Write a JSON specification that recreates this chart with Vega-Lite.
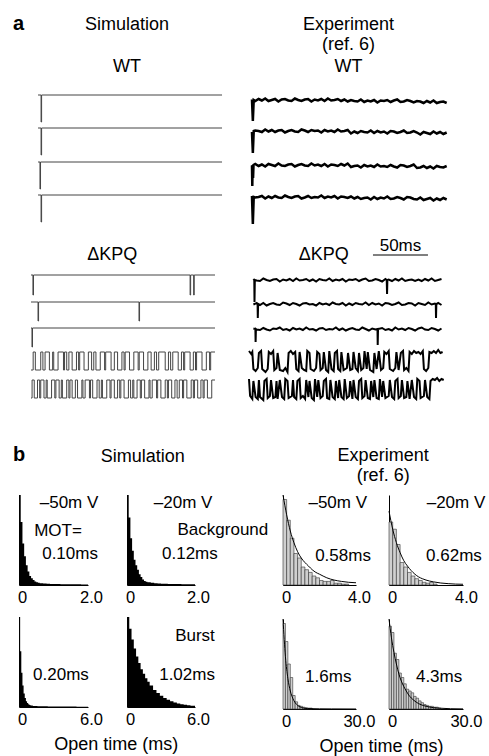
{
"$schema":"https://vega.github.io/schema/vega-lite/v6.json",
"padding":{"left":13,"top":14,"right":2,"bottom":2},
"background":"white",
"config":{
 "view":{"stroke":null},
 "font":"Liberation Sans",
 "title":{"font":"Liberation Sans","fontSize":18,"fontWeight":"normal","color":"black","subtitleFont":"Liberation Sans","subtitleFontSize":18,"subtitleColor":"black","lineHeight":20,"offset":6,"subtitlePadding":4,"anchor":"middle"},
 "axis":{"domainColor":"black","domainWidth":1,"ticks":false,"grid":false,"labelFontSize":16.5,"labelFont":"Liberation Sans","labelColor":"black","labelPadding":4,"labelFlush":false,"labelOverlap":false,"labelBound":false},
 "text":{"font":"Liberation Sans","fontSize":17,"color":"black"}
},
"datasets":{
"simWT":[
{"s":1,"t":0,"y":0},{"s":1,"t":2.8,"y":-27},{"s":1,"t":3.3,"y":0},{"s":1,"t":170,"y":0},
{"s":2,"t":0,"y":-33},{"s":2,"t":2.8,"y":-60},{"s":2,"t":3.3,"y":-33},{"s":2,"t":170,"y":-33},
{"s":3,"t":0,"y":-67},{"s":3,"t":1.8,"y":-94},{"s":3,"t":2.3,"y":-67},{"s":3,"t":170,"y":-67},
{"s":4,"t":0,"y":-100},{"s":4,"t":2.8,"y":-127},{"s":4,"t":3.3,"y":-100},{"s":4,"t":170,"y":-100}],
"expWT":[
{"s":1,"t":0,"y":-1.5},{"s":1,"t":0.8,"y":-23},{"s":1,"t":1.6,"y":-2},{"s":1,"t":3,"y":-3},{"s":1,"t":6,"y":-1},{"s":1,"t":9,"y":-2.5},{"s":1,"t":12,"y":-0.5},{"s":1,"t":15,"y":-3},{"s":1,"t":18,"y":-2},{"s":1,"t":21,"y":-1},{"s":1,"t":24,"y":-3.5},{"s":1,"t":27,"y":-1.5},{"s":1,"t":30,"y":-1},{"s":1,"t":33,"y":-2.5},{"s":1,"t":36,"y":-3},{"s":1,"t":39,"y":-0.5},{"s":1,"t":42,"y":-2},{"s":1,"t":45,"y":-3},{"s":1,"t":48,"y":-1.5},{"s":1,"t":51,"y":-1},{"s":1,"t":54,"y":-3.5},{"s":1,"t":57,"y":-1.5},{"s":1,"t":60,"y":-2.5},{"s":1,"t":63,"y":-1},{"s":1,"t":66,"y":-3},{"s":1,"t":69,"y":-0.5},{"s":1,"t":72,"y":-2.5},{"s":1,"t":75,"y":-2},{"s":1,"t":78,"y":-1},{"s":1,"t":81,"y":-3},{"s":1,"t":84,"y":-1.5},{"s":1,"t":87,"y":-3.5},{"s":1,"t":90,"y":-2},{"s":1,"t":93,"y":-3},{"s":1,"t":96,"y":-3.5},{"s":1,"t":99,"y":-1.5},{"s":1,"t":102,"y":-4},{"s":1,"t":105,"y":-2.5},{"s":1,"t":108,"y":-3.5},{"s":1,"t":111,"y":-2},{"s":1,"t":114,"y":-4.5},{"s":1,"t":117,"y":-2.5},{"s":1,"t":120,"y":-3},{"s":1,"t":123,"y":-2},{"s":1,"t":126,"y":-4},{"s":1,"t":129,"y":-2.5},{"s":1,"t":132,"y":-1.5},{"s":1,"t":135,"y":-4},{"s":1,"t":138,"y":-3.5},{"s":1,"t":141,"y":-2},{"s":1,"t":144,"y":-3},{"s":1,"t":147,"y":-4.5},{"s":1,"t":150,"y":-3},{"s":1,"t":153,"y":-3.5},{"s":1,"t":156,"y":-5},{"s":1,"t":159,"y":-3},{"s":1,"t":162,"y":-4.5},{"s":1,"t":165,"y":-2.5},{"s":1,"t":168,"y":-5},{"s":1,"t":171,"y":-4},{"s":1,"t":174,"y":-3.5},{"s":1,"t":177,"y":-5},
{"s":2,"t":0,"y":-34},{"s":2,"t":0.8,"y":-55},{"s":2,"t":1.6,"y":-33},{"s":2,"t":3,"y":-32.5},{"s":2,"t":6,"y":-33},{"s":2,"t":9,"y":-34},{"s":2,"t":12,"y":-31.5},{"s":2,"t":15,"y":-33.5},{"s":2,"t":18,"y":-32},{"s":2,"t":21,"y":-34},{"s":2,"t":24,"y":-32.5},{"s":2,"t":27,"y":-32},{"s":2,"t":30,"y":-34.5},{"s":2,"t":33,"y":-33},{"s":2,"t":36,"y":-32},{"s":2,"t":39,"y":-33.5},{"s":2,"t":42,"y":-34},{"s":2,"t":45,"y":-31.5},{"s":2,"t":48,"y":-32.5},{"s":2,"t":51,"y":-34},{"s":2,"t":54,"y":-32},{"s":2,"t":57,"y":-33},{"s":2,"t":60,"y":-32.5},{"s":2,"t":63,"y":-34.5},{"s":2,"t":66,"y":-32},{"s":2,"t":69,"y":-33.5},{"s":2,"t":72,"y":-32.5},{"s":2,"t":75,"y":-34},{"s":2,"t":78,"y":-31.5},{"s":2,"t":81,"y":-33.5},{"s":2,"t":84,"y":-33},{"s":2,"t":87,"y":-32},{"s":2,"t":90,"y":-35.5},{"s":2,"t":93,"y":-33.5},{"s":2,"t":96,"y":-35},{"s":2,"t":99,"y":-33},{"s":2,"t":102,"y":-34},{"s":2,"t":105,"y":-34.5},{"s":2,"t":108,"y":-32.5},{"s":2,"t":111,"y":-35},{"s":2,"t":114,"y":-33},{"s":2,"t":117,"y":-34.5},{"s":2,"t":120,"y":-33.5},{"s":2,"t":123,"y":-35.5},{"s":2,"t":126,"y":-33},{"s":2,"t":129,"y":-33.5},{"s":2,"t":132,"y":-35},{"s":2,"t":135,"y":-34},{"s":2,"t":138,"y":-32.5},{"s":2,"t":141,"y":-35},{"s":2,"t":144,"y":-34.5},{"s":2,"t":147,"y":-33},{"s":2,"t":150,"y":-34.5},{"s":2,"t":153,"y":-36.5},{"s":2,"t":156,"y":-34},{"s":2,"t":159,"y":-35},{"s":2,"t":162,"y":-36},{"s":2,"t":165,"y":-33.5},{"s":2,"t":168,"y":-35.5},{"s":2,"t":171,"y":-34},{"s":2,"t":174,"y":-36},{"s":2,"t":177,"y":-34.5},
{"s":3,"t":0,"y":-67.5},{"s":3,"t":0.3,"y":-88},{"s":3,"t":0.6,"y":-67},{"s":3,"t":1.0,"y":-80},{"s":3,"t":1.4,"y":-67},{"s":3,"t":3,"y":-66},{"s":3,"t":6,"y":-68},{"s":3,"t":9,"y":-66.5},{"s":3,"t":12,"y":-68.5},{"s":3,"t":15,"y":-66},{"s":3,"t":18,"y":-67},{"s":3,"t":21,"y":-68},{"s":3,"t":24,"y":-65.5},{"s":3,"t":27,"y":-67.5},{"s":3,"t":30,"y":-68},{"s":3,"t":33,"y":-66.5},{"s":3,"t":36,"y":-66},{"s":3,"t":39,"y":-68.5},{"s":3,"t":42,"y":-67},{"s":3,"t":45,"y":-66},{"s":3,"t":48,"y":-67.5},{"s":3,"t":51,"y":-68},{"s":3,"t":54,"y":-65.5},{"s":3,"t":57,"y":-67.5},{"s":3,"t":60,"y":-66.5},{"s":3,"t":63,"y":-68},{"s":3,"t":66,"y":-66},{"s":3,"t":69,"y":-68.5},{"s":3,"t":72,"y":-66.5},{"s":3,"t":75,"y":-67},{"s":3,"t":78,"y":-68},{"s":3,"t":81,"y":-66},{"s":3,"t":84,"y":-67.5},{"s":3,"t":87,"y":-65.5},{"s":3,"t":90,"y":-69},{"s":3,"t":93,"y":-68},{"s":3,"t":96,"y":-67.5},{"s":3,"t":99,"y":-69.5},{"s":3,"t":102,"y":-67},{"s":3,"t":105,"y":-68.5},{"s":3,"t":108,"y":-67.5},{"s":3,"t":111,"y":-69},{"s":3,"t":114,"y":-66.5},{"s":3,"t":117,"y":-68.5},{"s":3,"t":120,"y":-68},{"s":3,"t":123,"y":-69},{"s":3,"t":126,"y":-67},{"s":3,"t":129,"y":-68.5},{"s":3,"t":132,"y":-69.5},{"s":3,"t":135,"y":-67},{"s":3,"t":138,"y":-67.5},{"s":3,"t":141,"y":-69},{"s":3,"t":144,"y":-68},{"s":3,"t":147,"y":-66.5},{"s":3,"t":150,"y":-70},{"s":3,"t":153,"y":-69.5},{"s":3,"t":156,"y":-68},{"s":3,"t":159,"y":-70},{"s":3,"t":162,"y":-68.5},{"s":3,"t":165,"y":-70.5},{"s":3,"t":168,"y":-68},{"s":3,"t":171,"y":-69},{"s":3,"t":174,"y":-69.5},{"s":3,"t":177,"y":-68},
{"s":4,"t":0,"y":-98},{"s":4,"t":0.8,"y":-126},{"s":4,"t":1.6,"y":-99},{"s":4,"t":3,"y":-99.5},{"s":4,"t":6,"y":-99},{"s":4,"t":9,"y":-98},{"s":4,"t":12,"y":-100.5},{"s":4,"t":15,"y":-98.5},{"s":4,"t":18,"y":-100},{"s":4,"t":21,"y":-98},{"s":4,"t":24,"y":-99.5},{"s":4,"t":27,"y":-100},{"s":4,"t":30,"y":-97.5},{"s":4,"t":33,"y":-99},{"s":4,"t":36,"y":-100},{"s":4,"t":39,"y":-98.5},{"s":4,"t":42,"y":-98},{"s":4,"t":45,"y":-100.5},{"s":4,"t":48,"y":-99.5},{"s":4,"t":51,"y":-98},{"s":4,"t":54,"y":-100},{"s":4,"t":57,"y":-99},{"s":4,"t":60,"y":-99.5},{"s":4,"t":63,"y":-97.5},{"s":4,"t":66,"y":-100},{"s":4,"t":69,"y":-98.5},{"s":4,"t":72,"y":-99.5},{"s":4,"t":75,"y":-98},{"s":4,"t":78,"y":-100.5},{"s":4,"t":81,"y":-98.5},{"s":4,"t":84,"y":-99},{"s":4,"t":87,"y":-100},{"s":4,"t":90,"y":-98.5},{"s":4,"t":93,"y":-100.5},{"s":4,"t":96,"y":-99},{"s":4,"t":99,"y":-101},{"s":4,"t":102,"y":-100},{"s":4,"t":105,"y":-99.5},{"s":4,"t":108,"y":-101.5},{"s":4,"t":111,"y":-99},{"s":4,"t":114,"y":-101},{"s":4,"t":117,"y":-99.5},{"s":4,"t":120,"y":-100.5},{"s":4,"t":123,"y":-98.5},{"s":4,"t":126,"y":-101},{"s":4,"t":129,"y":-100.5},{"s":4,"t":132,"y":-99},{"s":4,"t":135,"y":-100},{"s":4,"t":138,"y":-101.5},{"s":4,"t":141,"y":-99},{"s":4,"t":144,"y":-99.5},{"s":4,"t":147,"y":-101},{"s":4,"t":150,"y":-101.5},{"s":4,"t":153,"y":-99.5},{"s":4,"t":156,"y":-102},{"s":4,"t":159,"y":-101},{"s":4,"t":162,"y":-100},{"s":4,"t":165,"y":-102.5},{"s":4,"t":168,"y":-100.5},{"s":4,"t":171,"y":-102},{"s":4,"t":174,"y":-100},{"s":4,"t":177,"y":-101.5}],
"simKPQ":[
{"s":1,"t":0,"y":5},{"s":1,"t":1.8,"y":-15},{"s":1,"t":2.3,"y":5},{"s":1,"t":147,"y":-15},{"s":1,"t":147.5,"y":5},{"s":1,"t":150.3,"y":-15},{"s":1,"t":150.8,"y":5},{"s":1,"t":170,"y":5},
{"s":2,"t":0,"y":-22},{"s":2,"t":6.5,"y":-41},{"s":2,"t":7,"y":-22},{"s":2,"t":99.8,"y":-41},{"s":2,"t":100.3,"y":-22},{"s":2,"t":170,"y":-22},
{"s":3,"t":0,"y":-48},{"s":3,"t":0.9,"y":-67},{"s":3,"t":1.4,"y":-48},{"s":3,"t":170,"y":-48},
{"s":4,"t":0,"y":-90},{"s":4,"t":2,"y":-72},{"s":4,"t":4,"y":-90},{"s":4,"t":9,"y":-72},{"s":4,"t":11,"y":-90},{"s":4,"t":13,"y":-72},{"s":4,"t":17,"y":-90},{"s":4,"t":20,"y":-72},{"s":4,"t":21,"y":-90},{"s":4,"t":25,"y":-72},{"s":4,"t":30,"y":-90},{"s":4,"t":31,"y":-72},{"s":4,"t":33,"y":-90},{"s":4,"t":35,"y":-72},{"s":4,"t":38,"y":-90},{"s":4,"t":42,"y":-72},{"s":4,"t":44,"y":-90},{"s":4,"t":45,"y":-72},{"s":4,"t":49,"y":-90},{"s":4,"t":53,"y":-72},{"s":4,"t":56,"y":-90},{"s":4,"t":58,"y":-72},{"s":4,"t":60,"y":-90},{"s":4,"t":64,"y":-72},{"s":4,"t":68,"y":-90},{"s":4,"t":69,"y":-72},{"s":4,"t":74,"y":-90},{"s":4,"t":77,"y":-72},{"s":4,"t":80,"y":-90},{"s":4,"t":84,"y":-72},{"s":4,"t":86,"y":-90},{"s":4,"t":87,"y":-72},{"s":4,"t":91,"y":-90},{"s":4,"t":95,"y":-72},{"s":4,"t":99,"y":-90},{"s":4,"t":100,"y":-72},{"s":4,"t":104,"y":-90},{"s":4,"t":108,"y":-72},{"s":4,"t":111,"y":-90},{"s":4,"t":114,"y":-72},{"s":4,"t":116,"y":-90},{"s":4,"t":118,"y":-72},{"s":4,"t":124,"y":-90},{"s":4,"t":127,"y":-72},{"s":4,"t":129,"y":-90},{"s":4,"t":131,"y":-72},{"s":4,"t":136,"y":-90},{"s":4,"t":139,"y":-72},{"s":4,"t":141,"y":-90},{"s":4,"t":142,"y":-72},{"s":4,"t":147,"y":-90},{"s":4,"t":150,"y":-72},{"s":4,"t":152,"y":-90},{"s":4,"t":153,"y":-72},{"s":4,"t":158,"y":-90},{"s":4,"t":162,"y":-72},{"s":4,"t":165,"y":-90},{"s":4,"t":166,"y":-72},{"s":4,"t":170,"y":-72},
{"s":5,"t":0,"y":-118},{"s":5,"t":1,"y":-100},{"s":5,"t":3,"y":-118},{"s":5,"t":6,"y":-100},{"s":5,"t":8,"y":-118},{"s":5,"t":9,"y":-100},{"s":5,"t":12,"y":-118},{"s":5,"t":14,"y":-100},{"s":5,"t":15,"y":-118},{"s":5,"t":19,"y":-100},{"s":5,"t":22,"y":-118},{"s":5,"t":23,"y":-100},{"s":5,"t":26,"y":-118},{"s":5,"t":28,"y":-100},{"s":5,"t":29,"y":-118},{"s":5,"t":33,"y":-100},{"s":5,"t":35,"y":-118},{"s":5,"t":36,"y":-100},{"s":5,"t":38,"y":-118},{"s":5,"t":41,"y":-100},{"s":5,"t":43,"y":-118},{"s":5,"t":47,"y":-100},{"s":5,"t":48,"y":-118},{"s":5,"t":50,"y":-100},{"s":5,"t":54,"y":-118},{"s":5,"t":55,"y":-100},{"s":5,"t":57,"y":-118},{"s":5,"t":61,"y":-100},{"s":5,"t":63,"y":-118},{"s":5,"t":65,"y":-100},{"s":5,"t":66,"y":-118},{"s":5,"t":70,"y":-100},{"s":5,"t":73,"y":-118},{"s":5,"t":74,"y":-100},{"s":5,"t":77,"y":-118},{"s":5,"t":80,"y":-100},{"s":5,"t":82,"y":-118},{"s":5,"t":83,"y":-100},{"s":5,"t":86,"y":-118},{"s":5,"t":90,"y":-100},{"s":5,"t":92,"y":-118},{"s":5,"t":94,"y":-100},{"s":5,"t":95,"y":-118},{"s":5,"t":98,"y":-100},{"s":5,"t":101,"y":-118},{"s":5,"t":102,"y":-100},{"s":5,"t":105,"y":-118},{"s":5,"t":109,"y":-100},{"s":5,"t":110,"y":-118},{"s":5,"t":112,"y":-100},{"s":5,"t":116,"y":-118},{"s":5,"t":117,"y":-100},{"s":5,"t":120,"y":-118},{"s":5,"t":124,"y":-100},{"s":5,"t":126,"y":-118},{"s":5,"t":127,"y":-100},{"s":5,"t":130,"y":-118},{"s":5,"t":133,"y":-100},{"s":5,"t":135,"y":-118},{"s":5,"t":137,"y":-100},{"s":5,"t":140,"y":-118},{"s":5,"t":141,"y":-100},{"s":5,"t":144,"y":-118},{"s":5,"t":148,"y":-100},{"s":5,"t":150,"y":-118},{"s":5,"t":151,"y":-100},{"s":5,"t":154,"y":-118},{"s":5,"t":157,"y":-100},{"s":5,"t":159,"y":-118},{"s":5,"t":160,"y":-100},{"s":5,"t":163,"y":-118},{"s":5,"t":167,"y":-100},{"s":5,"t":170,"y":-100}],
"expKPQ":[
{"s":1,"t":4,"y":1},{"s":1,"t":4.8,"y":0},{"s":1,"t":5,"y":-22},{"s":1,"t":5.3,"y":0},{"s":1,"t":7,"y":-0.5},{"s":1,"t":10,"y":-1},{"s":1,"t":13,"y":1.5},{"s":1,"t":16,"y":0},{"s":1,"t":19,"y":-1},{"s":1,"t":22,"y":0.5},{"s":1,"t":25,"y":1},{"s":1,"t":28,"y":-1.5},{"s":1,"t":31,"y":0.5},{"s":1,"t":34,"y":-0.5},{"s":1,"t":37,"y":1},{"s":1,"t":40,"y":-1},{"s":1,"t":43,"y":1.5},{"s":1,"t":46,"y":-0.5},{"s":1,"t":49,"y":0},{"s":1,"t":52,"y":1},{"s":1,"t":55,"y":-1},{"s":1,"t":58,"y":0.5},{"s":1,"t":61,"y":-1.5},{"s":1,"t":64,"y":1},{"s":1,"t":67,"y":0},{"s":1,"t":70,"y":-0.5},{"s":1,"t":73,"y":1.5},{"s":1,"t":76,"y":-1},{"s":1,"t":79,"y":0.5},{"s":1,"t":82,"y":-0.5},{"s":1,"t":85,"y":1},{"s":1,"t":88,"y":-1.5},{"s":1,"t":91,"y":0.5},{"s":1,"t":94,"y":0},{"s":1,"t":97,"y":1},{"s":1,"t":100,"y":-1},{"s":1,"t":103,"y":0.5},{"s":1,"t":106,"y":1.5},{"s":1,"t":109,"y":-1},{"s":1,"t":112,"y":-0.5},{"s":1,"t":115,"y":1},{"s":1,"t":118,"y":0},{"s":1,"t":121,"y":-1.5},{"s":1,"t":124,"y":1},{"s":1,"t":125.2,"y":0},{"s":1,"t":125.5,"y":-14},{"s":1,"t":125.8,"y":0},{"s":1,"t":127,"y":0.5},{"s":1,"t":130,"y":-1},{"s":1,"t":133,"y":1},{"s":1,"t":136,"y":-0.5},{"s":1,"t":139,"y":1.5},{"s":1,"t":142,"y":-1},{"s":1,"t":145,"y":0},{"s":1,"t":148,"y":0.5},{"s":1,"t":151,"y":-1},{"s":1,"t":154,"y":0.5},{"s":1,"t":157,"y":-1},{"s":1,"t":160,"y":1},{"s":1,"t":163,"y":-0.5},{"s":1,"t":166,"y":1.5},{"s":1,"t":169,"y":-1},{"s":1,"t":172,"y":0},{"s":1,"t":175,"y":1},
{"s":2,"t":4,"y":-24.5},{"s":2,"t":7,"y":-23},{"s":2,"t":7.8,"y":-24},{"s":2,"t":8,"y":-38},{"s":2,"t":8.3,"y":-24},{"s":2,"t":10,"y":-25},{"s":2,"t":13,"y":-23},{"s":2,"t":16,"y":-25.5},{"s":2,"t":19,"y":-24},{"s":2,"t":22,"y":-23},{"s":2,"t":25,"y":-24.5},{"s":2,"t":28,"y":-25},{"s":2,"t":31,"y":-22.5},{"s":2,"t":34,"y":-23.5},{"s":2,"t":37,"y":-25},{"s":2,"t":40,"y":-23},{"s":2,"t":43,"y":-24},{"s":2,"t":46,"y":-25.5},{"s":2,"t":49,"y":-23.5},{"s":2,"t":52,"y":-23},{"s":2,"t":55,"y":-24.5},{"s":2,"t":58,"y":-24},{"s":2,"t":61,"y":-25.5},{"s":2,"t":64,"y":-23},{"s":2,"t":67,"y":-24.5},{"s":2,"t":70,"y":-23.5},{"s":2,"t":73,"y":-25},{"s":2,"t":76,"y":-22.5},{"s":2,"t":79,"y":-24},{"s":2,"t":82,"y":-24.5},{"s":2,"t":85,"y":-23},{"s":2,"t":88,"y":-25.5},{"s":2,"t":91,"y":-23.5},{"s":2,"t":94,"y":-25},{"s":2,"t":97,"y":-23},{"s":2,"t":100,"y":-24},{"s":2,"t":103,"y":-24.5},{"s":2,"t":106,"y":-22.5},{"s":2,"t":109,"y":-25},{"s":2,"t":112,"y":-23},{"s":2,"t":115,"y":-24.5},{"s":2,"t":118,"y":-23.5},{"s":2,"t":121,"y":-25.5},{"s":2,"t":124,"y":-23},{"s":2,"t":127,"y":-23.5},{"s":2,"t":130,"y":-25},{"s":2,"t":133,"y":-24},{"s":2,"t":136,"y":-22.5},{"s":2,"t":139,"y":-25},{"s":2,"t":142,"y":-24.5},{"s":2,"t":145,"y":-23},{"s":2,"t":148,"y":-23.5},{"s":2,"t":151,"y":-25.5},{"s":2,"t":154,"y":-23},{"s":2,"t":157,"y":-24},{"s":2,"t":160,"y":-25},{"s":2,"t":163,"y":-22.5},{"s":2,"t":166,"y":-24.5},{"s":2,"t":169,"y":-23.5},{"s":2,"t":169.8,"y":-24},{"s":2,"t":170,"y":-38},{"s":2,"t":170.3,"y":-24},{"s":2,"t":172,"y":-23},{"s":2,"t":175,"y":-25},
{"s":3,"t":4,"y":-48.5},{"s":3,"t":5.8,"y":-49},{"s":3,"t":6,"y":-62},{"s":3,"t":6.3,"y":-49},{"s":3,"t":7,"y":-49.5},{"s":3,"t":10,"y":-50},{"s":3,"t":13,"y":-48},{"s":3,"t":16,"y":-49.5},{"s":3,"t":19,"y":-50.5},{"s":3,"t":22,"y":-48.5},{"s":3,"t":25,"y":-49},{"s":3,"t":28,"y":-47.5},{"s":3,"t":31,"y":-50},{"s":3,"t":34,"y":-49},{"s":3,"t":37,"y":-50.5},{"s":3,"t":40,"y":-48},{"s":3,"t":43,"y":-49.5},{"s":3,"t":46,"y":-48.5},{"s":3,"t":49,"y":-50},{"s":3,"t":52,"y":-47.5},{"s":3,"t":55,"y":-49.5},{"s":3,"t":58,"y":-49},{"s":3,"t":61,"y":-50.5},{"s":3,"t":64,"y":-48.5},{"s":3,"t":67,"y":-48},{"s":3,"t":70,"y":-50},{"s":3,"t":73,"y":-49},{"s":3,"t":76,"y":-49.5},{"s":3,"t":79,"y":-47.5},{"s":3,"t":82,"y":-50},{"s":3,"t":85,"y":-48.5},{"s":3,"t":88,"y":-50.5},{"s":3,"t":91,"y":-49},{"s":3,"t":94,"y":-48},{"s":3,"t":97,"y":-49.5},{"s":3,"t":100,"y":-50},{"s":3,"t":103,"y":-47.5},{"s":3,"t":106,"y":-49},{"s":3,"t":109,"y":-50.5},{"s":3,"t":112,"y":-48.5},{"s":3,"t":115,"y":-49.5},{"s":3,"t":116.8,"y":-49},{"s":3,"t":117,"y":-65},{"s":3,"t":117.3,"y":-49},{"s":3,"t":121,"y":-48},{"s":3,"t":124,"y":-50},{"s":3,"t":127,"y":-49},{"s":3,"t":130,"y":-50.5},{"s":3,"t":133,"y":-47.5},{"s":3,"t":136,"y":-49.5},{"s":3,"t":139,"y":-48.5},{"s":3,"t":142,"y":-50},{"s":3,"t":145,"y":-48},{"s":3,"t":148,"y":-49},{"s":3,"t":151,"y":-50.5},{"s":3,"t":154,"y":-48.5},{"s":3,"t":157,"y":-47.5},{"s":3,"t":160,"y":-49.5},{"s":3,"t":163,"y":-50},{"s":3,"t":166,"y":-48},{"s":3,"t":169,"y":-49},{"s":3,"t":172,"y":-50.5},{"s":3,"t":175,"y":-48.5},
{"s":4,"t":0,"y":-71},{"s":4,"t":2,"y":-74},{"s":4,"t":3,"y":-72},{"s":4,"t":4,"y":-89},{"s":4,"t":6,"y":-91},{"s":4,"t":8,"y":-88},{"s":4,"t":9,"y":-73},{"s":4,"t":11,"y":-71},{"s":4,"t":12,"y":-89},{"s":4,"t":15,"y":-92},{"s":4,"t":17,"y":-89},{"s":4,"t":18,"y":-72},{"s":4,"t":20,"y":-74},{"s":4,"t":22,"y":-71},{"s":4,"t":23,"y":-90},{"s":4,"t":25,"y":-88},{"s":4,"t":26,"y":-73},{"s":4,"t":28,"y":-90},{"s":4,"t":31,"y":-91},{"s":4,"t":33,"y":-88},{"s":4,"t":35,"y":-92},{"s":4,"t":36,"y":-73},{"s":4,"t":38,"y":-71},{"s":4,"t":40,"y":-74},{"s":4,"t":42,"y":-72},{"s":4,"t":43,"y":-89},{"s":4,"t":45,"y":-91},{"s":4,"t":46,"y":-72},{"s":4,"t":48,"y":-88},{"s":4,"t":50,"y":-90},{"s":4,"t":52,"y":-91},{"s":4,"t":53,"y":-71},{"s":4,"t":55,"y":-73},{"s":4,"t":56,"y":-89},{"s":4,"t":59,"y":-91},{"s":4,"t":61,"y":-88},{"s":4,"t":62,"y":-72},{"s":4,"t":64,"y":-74},{"s":4,"t":65,"y":-90},{"s":4,"t":67,"y":-88},{"s":4,"t":68,"y":-72},{"s":4,"t":70,"y":-90},{"s":4,"t":72,"y":-92},{"s":4,"t":73,"y":-71},{"s":4,"t":75,"y":-89},{"s":4,"t":77,"y":-91},{"s":4,"t":78,"y":-73},{"s":4,"t":80,"y":-71},{"s":4,"t":81,"y":-89},{"s":4,"t":83,"y":-91},{"s":4,"t":84,"y":-72},{"s":4,"t":86,"y":-90},{"s":4,"t":89,"y":-88},{"s":4,"t":90,"y":-73},{"s":4,"t":92,"y":-90},{"s":4,"t":94,"y":-89},{"s":4,"t":95,"y":-72},{"s":4,"t":97,"y":-88},{"s":4,"t":99,"y":-91},{"s":4,"t":100,"y":-73},{"s":4,"t":102,"y":-90},{"s":4,"t":104,"y":-88},{"s":4,"t":105,"y":-71},{"s":4,"t":107,"y":-89},{"s":4,"t":108,"y":-72},{"s":4,"t":110,"y":-90},{"s":4,"t":113,"y":-92},{"s":4,"t":114,"y":-73},{"s":4,"t":116,"y":-89},{"s":4,"t":118,"y":-71},{"s":4,"t":120,"y":-90},{"s":4,"t":122,"y":-88},{"s":4,"t":123,"y":-72},{"s":4,"t":125,"y":-74},{"s":4,"t":127,"y":-71},{"s":4,"t":128,"y":-89},{"s":4,"t":131,"y":-91},{"s":4,"t":133,"y":-88},{"s":4,"t":134,"y":-72},{"s":4,"t":136,"y":-90},{"s":4,"t":138,"y":-73},{"s":4,"t":140,"y":-71},{"s":4,"t":141,"y":-90},{"s":4,"t":143,"y":-88},{"s":4,"t":145,"y":-91},{"s":4,"t":146,"y":-72},{"s":4,"t":148,"y":-74},{"s":4,"t":150,"y":-71},{"s":4,"t":152,"y":-73},{"s":4,"t":154,"y":-72},{"s":4,"t":156,"y":-74},{"s":4,"t":158,"y":-71},{"s":4,"t":159,"y":-89},{"s":4,"t":161,"y":-91},{"s":4,"t":163,"y":-88},{"s":4,"t":164,"y":-72},{"s":4,"t":166,"y":-73},{"s":4,"t":168,"y":-71},{"s":4,"t":170,"y":-73},{"s":4,"t":172,"y":-70},{"s":4,"t":174,"y":-73},{"s":4,"t":176,"y":-72},
{"s":5,"t":0,"y":-99},{"s":5,"t":1,"y":-116},{"s":5,"t":3,"y":-119},{"s":5,"t":4,"y":-101},{"s":5,"t":6,"y":-117},{"s":5,"t":8,"y":-119},{"s":5,"t":9,"y":-100},{"s":5,"t":10,"y":-117},{"s":5,"t":13,"y":-120},{"s":5,"t":14,"y":-101},{"s":5,"t":16,"y":-99},{"s":5,"t":17,"y":-118},{"s":5,"t":19,"y":-116},{"s":5,"t":20,"y":-100},{"s":5,"t":22,"y":-118},{"s":5,"t":24,"y":-117},{"s":5,"t":25,"y":-101},{"s":5,"t":26,"y":-119},{"s":5,"t":28,"y":-100},{"s":5,"t":30,"y":-117},{"s":5,"t":32,"y":-119},{"s":5,"t":33,"y":-99},{"s":5,"t":35,"y":-101},{"s":5,"t":36,"y":-118},{"s":5,"t":39,"y":-116},{"s":5,"t":40,"y":-100},{"s":5,"t":41,"y":-117},{"s":5,"t":43,"y":-119},{"s":5,"t":44,"y":-101},{"s":5,"t":46,"y":-99},{"s":5,"t":47,"y":-118},{"s":5,"t":49,"y":-116},{"s":5,"t":51,"y":-119},{"s":5,"t":52,"y":-100},{"s":5,"t":54,"y":-117},{"s":5,"t":55,"y":-101},{"s":5,"t":57,"y":-118},{"s":5,"t":59,"y":-120},{"s":5,"t":60,"y":-99},{"s":5,"t":62,"y":-117},{"s":5,"t":63,"y":-100},{"s":5,"t":65,"y":-118},{"s":5,"t":67,"y":-116},{"s":5,"t":68,"y":-101},{"s":5,"t":70,"y":-99},{"s":5,"t":71,"y":-118},{"s":5,"t":73,"y":-119},{"s":5,"t":74,"y":-100},{"s":5,"t":76,"y":-117},{"s":5,"t":78,"y":-119},{"s":5,"t":79,"y":-101},{"s":5,"t":81,"y":-118},{"s":5,"t":82,"y":-100},{"s":5,"t":84,"y":-117},{"s":5,"t":86,"y":-119},{"s":5,"t":87,"y":-99},{"s":5,"t":89,"y":-118},{"s":5,"t":91,"y":-116},{"s":5,"t":92,"y":-101},{"s":5,"t":94,"y":-119},{"s":5,"t":95,"y":-100},{"s":5,"t":97,"y":-117},{"s":5,"t":99,"y":-119},{"s":5,"t":100,"y":-101},{"s":5,"t":102,"y":-99},{"s":5,"t":103,"y":-118},{"s":5,"t":105,"y":-116},{"s":5,"t":106,"y":-100},{"s":5,"t":108,"y":-118},{"s":5,"t":110,"y":-119},{"s":5,"t":111,"y":-101},{"s":5,"t":113,"y":-117},{"s":5,"t":114,"y":-100},{"s":5,"t":116,"y":-118},{"s":5,"t":118,"y":-119},{"s":5,"t":119,"y":-99},{"s":5,"t":121,"y":-117},{"s":5,"t":122,"y":-101},{"s":5,"t":124,"y":-118},{"s":5,"t":127,"y":-116},{"s":5,"t":128,"y":-100},{"s":5,"t":130,"y":-117},{"s":5,"t":132,"y":-119},{"s":5,"t":133,"y":-101},{"s":5,"t":135,"y":-99},{"s":5,"t":136,"y":-118},{"s":5,"t":138,"y":-116},{"s":5,"t":139,"y":-100},{"s":5,"t":141,"y":-118},{"s":5,"t":143,"y":-117},{"s":5,"t":144,"y":-101},{"s":5,"t":146,"y":-119},{"s":5,"t":148,"y":-100},{"s":5,"t":150,"y":-117},{"s":5,"t":152,"y":-119},{"s":5,"t":153,"y":-99},{"s":5,"t":155,"y":-101},{"s":5,"t":156,"y":-118},{"s":5,"t":159,"y":-116},{"s":5,"t":160,"y":-100},{"s":5,"t":162,"y":-117},{"s":5,"t":164,"y":-119},{"s":5,"t":165,"y":-101},{"s":5,"t":167,"y":-99},{"s":5,"t":169,"y":-100},{"s":5,"t":171,"y":-98},{"s":5,"t":173,"y":-101},{"s":5,"t":175,"y":-99},{"s":5,"t":177,"y":-100}],
"simHist":[
{"p":"h1","x":0,"c":1},{"p":"h1","x":0.05,"c":0.7},{"p":"h1","x":0.1,"c":0.46},{"p":"h1","x":0.15,"c":0.32},{"p":"h1","x":0.2,"c":0.22},{"p":"h1","x":0.25,"c":0.15},{"p":"h1","x":0.3,"c":0.1},{"p":"h1","x":0.35,"c":0.075},{"p":"h1","x":0.4,"c":0.055},{"p":"h1","x":0.45,"c":0.04},{"p":"h1","x":0.5,"c":0.03},{"p":"h1","x":0.55,"c":0.025},{"p":"h1","x":0.6,"c":0.02},{"p":"h1","x":0.7,"c":0.016},{"p":"h1","x":0.8,"c":0.013},{"p":"h1","x":0.9,"c":0.011},{"p":"h1","x":1.0,"c":0.01},{"p":"h1","x":1.2,"c":0.009},{"p":"h1","x":1.4,"c":0.008},{"p":"h1","x":1.6,"c":0.007},{"p":"h1","x":1.8,"c":0.006},{"p":"h1","x":2.0,"c":0.005},
{"p":"h2","x":0,"c":1},{"p":"h2","x":0.05,"c":0.75},{"p":"h2","x":0.1,"c":0.52},{"p":"h2","x":0.15,"c":0.38},{"p":"h2","x":0.2,"c":0.28},{"p":"h2","x":0.25,"c":0.22},{"p":"h2","x":0.3,"c":0.17},{"p":"h2","x":0.35,"c":0.12},{"p":"h2","x":0.4,"c":0.09},{"p":"h2","x":0.45,"c":0.06},{"p":"h2","x":0.5,"c":0.045},{"p":"h2","x":0.55,"c":0.035},{"p":"h2","x":0.6,"c":0.03},{"p":"h2","x":0.7,"c":0.025},{"p":"h2","x":0.8,"c":0.02},{"p":"h2","x":0.9,"c":0.018},{"p":"h2","x":1.0,"c":0.015},{"p":"h2","x":1.2,"c":0.012},{"p":"h2","x":1.4,"c":0.01},{"p":"h2","x":1.6,"c":0.009},{"p":"h2","x":1.8,"c":0.008},{"p":"h2","x":2.0,"c":0.008},
{"p":"h3","x":0,"c":1},{"p":"h3","x":0.1,"c":0.62},{"p":"h3","x":0.2,"c":0.38},{"p":"h3","x":0.3,"c":0.24},{"p":"h3","x":0.4,"c":0.15},{"p":"h3","x":0.5,"c":0.1},{"p":"h3","x":0.6,"c":0.065},{"p":"h3","x":0.7,"c":0.045},{"p":"h3","x":0.8,"c":0.03},{"p":"h3","x":0.9,"c":0.022},{"p":"h3","x":1.0,"c":0.016},{"p":"h3","x":1.2,"c":0.012},{"p":"h3","x":1.4,"c":0.01},{"p":"h3","x":1.6,"c":0.008},{"p":"h3","x":2.0,"c":0.007},{"p":"h3","x":2.5,"c":0.006},{"p":"h3","x":3.0,"c":0.006},{"p":"h3","x":3.5,"c":0.005},{"p":"h3","x":4.0,"c":0.005},{"p":"h3","x":4.5,"c":0.005},{"p":"h3","x":5.0,"c":0.004},{"p":"h3","x":5.5,"c":0.004},{"p":"h3","x":6.0,"c":0.004},
{"p":"h4","x":0,"c":1},{"p":"h4","x":0.2,"c":0.87},{"p":"h4","x":0.4,"c":0.75},{"p":"h4","x":0.6,"c":0.65},{"p":"h4","x":0.8,"c":0.56},{"p":"h4","x":1.0,"c":0.49},{"p":"h4","x":1.2,"c":0.42},{"p":"h4","x":1.4,"c":0.37},{"p":"h4","x":1.6,"c":0.32},{"p":"h4","x":1.8,"c":0.28},{"p":"h4","x":2.0,"c":0.24},{"p":"h4","x":2.3,"c":0.19},{"p":"h4","x":2.6,"c":0.155},{"p":"h4","x":2.9,"c":0.125},{"p":"h4","x":3.2,"c":0.1},{"p":"h4","x":3.5,"c":0.08},{"p":"h4","x":3.8,"c":0.065},{"p":"h4","x":4.1,"c":0.05},{"p":"h4","x":4.4,"c":0.04},{"p":"h4","x":4.7,"c":0.03},{"p":"h4","x":5.0,"c":0.025},{"p":"h4","x":5.3,"c":0.02},{"p":"h4","x":5.6,"c":0.015},{"p":"h4","x":6.0,"c":0.01}],
"expBars":[
{"p":"h5","x":0,"x2":0.2,"c":0.95},{"p":"h5","x":0.2,"x2":0.4,"c":0.72},{"p":"h5","x":0.4,"x2":0.6,"c":0.52},{"p":"h5","x":0.6,"x2":0.8,"c":0.35},{"p":"h5","x":0.8,"x2":1.0,"c":0.3},{"p":"h5","x":1.0,"x2":1.2,"c":0.2},{"p":"h5","x":1.2,"x2":1.4,"c":0.17},{"p":"h5","x":1.4,"x2":1.6,"c":0.14},{"p":"h5","x":1.6,"x2":1.8,"c":0.1},{"p":"h5","x":1.8,"x2":2.0,"c":0.08},{"p":"h5","x":2.0,"x2":2.2,"c":0.05},{"p":"h5","x":2.2,"x2":2.4,"c":0.04},{"p":"h5","x":2.4,"x2":2.6,"c":0.04},{"p":"h5","x":2.6,"x2":2.8,"c":0.05},{"p":"h5","x":2.8,"x2":3.0,"c":0.02},{"p":"h5","x":3.0,"x2":3.2,"c":0.02},{"p":"h5","x":3.2,"x2":3.4,"c":0.01},{"p":"h5","x":3.4,"x2":3.6,"c":0.01},
{"p":"h6","x":0,"x2":0.2,"c":0.7},{"p":"h6","x":0.2,"x2":0.4,"c":0.62},{"p":"h6","x":0.4,"x2":0.6,"c":0.45},{"p":"h6","x":0.6,"x2":0.8,"c":0.25},{"p":"h6","x":0.8,"x2":1.0,"c":0.2},{"p":"h6","x":1.0,"x2":1.2,"c":0.14},{"p":"h6","x":1.2,"x2":1.4,"c":0.1},{"p":"h6","x":1.4,"x2":1.6,"c":0.07},{"p":"h6","x":1.6,"x2":1.8,"c":0.05},{"p":"h6","x":1.8,"x2":2.0,"c":0.03},{"p":"h6","x":2.0,"x2":2.2,"c":0.02},{"p":"h6","x":2.2,"x2":2.4,"c":0.03},{"p":"h6","x":2.4,"x2":2.6,"c":0.01},
{"p":"h7","x":0,"x2":1,"c":0.95},{"p":"h7","x":1,"x2":2,"c":0.75},{"p":"h7","x":2,"x2":3,"c":0.5},{"p":"h7","x":3,"x2":4,"c":0.35},{"p":"h7","x":4,"x2":5,"c":0.15},{"p":"h7","x":5,"x2":6,"c":0.08},{"p":"h7","x":6,"x2":7,"c":0.04},{"p":"h7","x":7,"x2":8,"c":0.03},{"p":"h7","x":8,"x2":9,"c":0.02},{"p":"h7","x":9,"x2":10,"c":0.015},{"p":"h7","x":10,"x2":11,"c":0.01},{"p":"h7","x":11,"x2":12,"c":0.01},
{"p":"h8","x":0,"x2":1,"c":0.92},{"p":"h8","x":1,"x2":2,"c":0.85},{"p":"h8","x":2,"x2":3,"c":0.62},{"p":"h8","x":3,"x2":4,"c":0.55},{"p":"h8","x":4,"x2":5,"c":0.4},{"p":"h8","x":5,"x2":6,"c":0.35},{"p":"h8","x":6,"x2":7,"c":0.28},{"p":"h8","x":7,"x2":8,"c":0.22},{"p":"h8","x":8,"x2":9,"c":0.2},{"p":"h8","x":9,"x2":10,"c":0.18},{"p":"h8","x":10,"x2":11,"c":0.14},{"p":"h8","x":11,"x2":12,"c":0.12},{"p":"h8","x":12,"x2":13,"c":0.09},{"p":"h8","x":13,"x2":14,"c":0.07},{"p":"h8","x":14,"x2":15,"c":0.05},{"p":"h8","x":15,"x2":16,"c":0.04},{"p":"h8","x":16,"x2":17,"c":0.03},{"p":"h8","x":17,"x2":18,"c":0.03},{"p":"h8","x":18,"x2":19,"c":0.02},{"p":"h8","x":19,"x2":20,"c":0.02},{"p":"h8","x":20,"x2":21,"c":0.01}],
"expFit":[
{"p":"h5","x":0,"c":1},{"p":"h5","x":0.2,"c":0.78},{"p":"h5","x":0.4,"c":0.6},{"p":"h5","x":0.6,"c":0.47},{"p":"h5","x":0.8,"c":0.37},{"p":"h5","x":1.0,"c":0.3},{"p":"h5","x":1.2,"c":0.25},{"p":"h5","x":1.4,"c":0.21},{"p":"h5","x":1.6,"c":0.17},{"p":"h5","x":1.8,"c":0.14},{"p":"h5","x":2.0,"c":0.12},{"p":"h5","x":2.4,"c":0.08},{"p":"h5","x":2.8,"c":0.055},{"p":"h5","x":3.2,"c":0.04},{"p":"h5","x":3.6,"c":0.03},{"p":"h5","x":4.0,"c":0.025},
{"p":"h6","x":0,"c":0.82},{"p":"h6","x":0.2,"c":0.62},{"p":"h6","x":0.4,"c":0.47},{"p":"h6","x":0.6,"c":0.36},{"p":"h6","x":0.8,"c":0.27},{"p":"h6","x":1.0,"c":0.21},{"p":"h6","x":1.2,"c":0.16},{"p":"h6","x":1.4,"c":0.12},{"p":"h6","x":1.6,"c":0.09},{"p":"h6","x":1.8,"c":0.07},{"p":"h6","x":2.0,"c":0.055},{"p":"h6","x":2.4,"c":0.035},{"p":"h6","x":2.8,"c":0.022},{"p":"h6","x":3.2,"c":0.015},{"p":"h6","x":3.6,"c":0.01},{"p":"h6","x":4.0,"c":0.008},
{"p":"h7","x":0,"c":1},{"p":"h7","x":1,"c":0.58},{"p":"h7","x":2,"c":0.34},{"p":"h7","x":3,"c":0.2},{"p":"h7","x":4,"c":0.12},{"p":"h7","x":5,"c":0.07},{"p":"h7","x":6,"c":0.04},{"p":"h7","x":8,"c":0.014},{"p":"h7","x":10,"c":0.005},{"p":"h7","x":15,"c":0.002},{"p":"h7","x":20,"c":0.001},{"p":"h7","x":30,"c":0},
{"p":"h8","x":0,"c":1},{"p":"h8","x":1,"c":0.79},{"p":"h8","x":2,"c":0.63},{"p":"h8","x":3,"c":0.5},{"p":"h8","x":4,"c":0.39},{"p":"h8","x":5,"c":0.31},{"p":"h8","x":6,"c":0.25},{"p":"h8","x":7,"c":0.2},{"p":"h8","x":8,"c":0.155},{"p":"h8","x":9,"c":0.123},{"p":"h8","x":10,"c":0.098},{"p":"h8","x":12,"c":0.06},{"p":"h8","x":14,"c":0.038},{"p":"h8","x":16,"c":0.024},{"p":"h8","x":18,"c":0.015},{"p":"h8","x":20,"c":0.01},{"p":"h8","x":25,"c":0.003},{"p":"h8","x":30,"c":0.001}]
},
"spacing":41,
"vconcat":[
{
 "title":{"text":"a","anchor":"start","fontWeight":"bold","fontSize":20,"offset":0,"dy":18},
 "spacing":8,
 "vconcat":[
  {"spacing":0,"bounds":"flush","hconcat":[
   {"width":18,"height":10,"data":{"values":[{}]},"mark":{"type":"text","text":""}},
   {"width":192,"height":137,
    "title":{"text":["Simulation",""],"subtitle":"WT","offset":15},
    "data":{"name":"simWT"},
    "mark":{"type":"line","interpolate":"step-after","color":"#444","strokeWidth":1},
    "encoding":{"x":{"field":"t","type":"quantitative","scale":{"domain":[-6.5,170.9],"nice":false,"zero":false},"axis":null},
                "y":{"field":"y","type":"quantitative","scale":{"domain":[-133,4],"nice":false,"zero":false},"axis":null},
                "detail":{"field":"s"}}},
   {"width":26,"height":10,"data":{"values":[{}]},"mark":{"type":"text","text":""}},
   {"width":199,"height":137,
    "title":{"text":["Experiment","(ref. 6)"],"subtitle":"WT","offset":15},
    "data":{"name":"expWT"},
    "mark":{"type":"line","color":"black","strokeWidth":2.5},
    "encoding":{"x":{"field":"t","type":"quantitative","scale":{"domain":[-2.7,178.2],"nice":false,"zero":false},"axis":null},
                "y":{"field":"y","type":"quantitative","scale":{"domain":[-130,7],"nice":false,"zero":false},"axis":null},
                "detail":{"field":"s"}}}
  ]},
  {"spacing":0,"bounds":"flush","hconcat":[
   {"width":18,"height":10,"data":{"values":[{}]},"mark":{"type":"text","text":""}},
   {"width":192,"height":160,
    "layer":[
     {"data":{"name":"simKPQ"},
      "mark":{"type":"line","interpolate":"step-after","color":"#444","strokeWidth":1},
      "encoding":{"x":{"field":"t","type":"quantitative","scale":{"domain":[0,177.4],"nice":false,"zero":false},"axis":null},
                  "y":{"field":"y","type":"quantitative","scale":{"domain":[-122,38],"nice":false,"zero":false},"axis":null},
                  "detail":{"field":"s"}}},
     {"data":{"values":[{}]},"mark":{"type":"text","text":"ΔKPQ","fontSize":18},
      "encoding":{"x":{"datum":75},"y":{"datum":25}}}
    ]},
   {"width":26,"height":10,"data":{"values":[{}]},"mark":{"type":"text","text":""}},
   {"width":199,"height":160,
    "layer":[
     {"data":{"name":"expKPQ"},
      "mark":{"type":"line","color":"black","strokeWidth":2},
      "encoding":{"x":{"field":"t","type":"quantitative","scale":{"domain":[0,180.9],"nice":false,"zero":false},"axis":null},
                  "y":{"field":"y","type":"quantitative","scale":{"domain":[-122,38],"nice":false,"zero":false},"axis":null},
                  "detail":{"field":"s"}}},
     {"data":{"values":[{}]},"mark":{"type":"text","text":"ΔKPQ","fontSize":18},
      "encoding":{"x":{"datum":68},"y":{"datum":25}}},
     {"data":{"values":[{}]},"mark":{"type":"text","text":"50ms","fontSize":17},
      "encoding":{"x":{"datum":137.7},"y":{"datum":34}}},
     {"data":{"values":[{}]},"mark":{"type":"rule","color":"black","strokeWidth":1},
      "encoding":{"x":{"datum":112.7},"x2":{"datum":162.7},"y":{"datum":25}}}
    ]}
  ]}
 ]
},
{
 "title":{"text":"b","anchor":"start","fontWeight":"bold","fontSize":20,"offset":0,"dy":18},
 "spacing":0,
 "hconcat":[
  {"width":4,"height":10,"data":{"values":[{}]},"mark":{"type":"text","text":""}},
  {"title":{"text":["Simulation",""],"offset":8},
   "spacing":11,
   "vconcat":[
    {"spacing":39,"bounds":"flush","hconcat":[
     {"width":69,"height":90,"layer":[
      {"data":{"name":"simHist"},"transform":[{"filter":"datum.p=='h1'"}],
       "mark":{"type":"area","interpolate":"step-after","color":"black"},
       "encoding":{"x":{"field":"x","type":"quantitative","scale":{"domain":[0,2],"nice":false},"axis":{"values":[0,2],"labelExpr":"datum.value == 0 ? '0' : format(datum.value, '.1f')","title":null,"labelOffset":3}},
                   "y":{"field":"c","type":"quantitative","scale":{"domain":[0,1],"nice":false},"axis":{"labels":false,"title":null}}}},
      {"data":{"values":[{}]},"mark":{"type":"text","text":"–50m V"},"encoding":{"x":{"datum":1.45},"y":{"datum":0.91}}},
      {"data":{"values":[{}]},"mark":{"type":"text","text":"MOT="},"encoding":{"x":{"datum":1.13},"y":{"datum":0.6}}},
      {"data":{"values":[{}]},"mark":{"type":"text","text":"0.10ms"},"encoding":{"x":{"datum":1.48},"y":{"datum":0.34}}}
     ]},
     {"width":68,"height":90,"layer":[
      {"data":{"name":"simHist"},"transform":[{"filter":"datum.p=='h2'"}],
       "mark":{"type":"area","interpolate":"step-after","color":"black"},
       "encoding":{"x":{"field":"x","type":"quantitative","scale":{"domain":[0,2],"nice":false},"axis":{"values":[0,2],"labelExpr":"datum.value == 0 ? '0' : format(datum.value, '.1f')","title":null,"labelOffset":3}},
                   "y":{"field":"c","type":"quantitative","scale":{"domain":[0,1],"nice":false},"axis":{"labels":false,"title":null}}}},
      {"data":{"values":[{}]},"mark":{"type":"text","text":"–20m V"},"encoding":{"x":{"datum":1.65},"y":{"datum":0.91}}},
      {"data":{"values":[{}]},"mark":{"type":"text","text":"Background"},"encoding":{"x":{"datum":2.82},"y":{"datum":0.61}}},
      {"data":{"values":[{}]},"mark":{"type":"text","text":"0.12ms"},"encoding":{"x":{"datum":1.85},"y":{"datum":0.34}}}
     ]}
    ]},
    {"title":{"text":"Open time (ms)","orient":"bottom","offset":8},
     "spacing":39,"bounds":"flush","hconcat":[
     {"width":69,"height":90,"layer":[
      {"data":{"name":"simHist"},"transform":[{"filter":"datum.p=='h3'"}],
       "mark":{"type":"area","interpolate":"step-after","color":"black"},
       "encoding":{"x":{"field":"x","type":"quantitative","scale":{"domain":[0,6],"nice":false},"axis":{"values":[0,6],"labelExpr":"datum.value == 0 ? '0' : format(datum.value, '.1f')","title":null,"labelOffset":3}},
                   "y":{"field":"c","type":"quantitative","scale":{"domain":[0,1],"nice":false},"axis":{"labels":false,"title":null}}}},
      {"data":{"values":[{}]},"mark":{"type":"text","text":"0.20ms"},"encoding":{"x":{"datum":3.65},"y":{"datum":0.36}}}
     ]},
     {"width":68,"height":90,"layer":[
      {"data":{"name":"simHist"},"transform":[{"filter":"datum.p=='h4'"}],
       "mark":{"type":"area","interpolate":"step-after","color":"black"},
       "encoding":{"x":{"field":"x","type":"quantitative","scale":{"domain":[0,6],"nice":false},"axis":{"values":[0,6],"labelExpr":"datum.value == 0 ? '0' : format(datum.value, '.1f')","title":null,"labelOffset":3}},
                   "y":{"field":"c","type":"quantitative","scale":{"domain":[0,1],"nice":false},"axis":{"labels":false,"title":null}}}},
      {"data":{"values":[{}]},"mark":{"type":"text","text":"Burst"},"encoding":{"x":{"datum":6.0},"y":{"datum":0.79}}},
      {"data":{"values":[{}]},"mark":{"type":"text","text":"1.02ms"},"encoding":{"x":{"datum":5.3},"y":{"datum":0.36}}}
     ]}
    ]}
   ]},
  {"width":12,"height":10,"data":{"values":[{}]},"mark":{"type":"text","text":""}},
  {"title":{"text":["Experiment","(ref. 6)"],"offset":8},
   "spacing":11,
   "vconcat":[
    {"spacing":33,"bounds":"flush","hconcat":[
     {"width":73,"height":90,"layer":[
      {"data":{"name":"expBars"},"transform":[{"filter":"datum.p=='h5'"}],
       "mark":{"type":"rect","fill":"#d0d0d0","stroke":"#333","strokeWidth":0.6},
       "encoding":{"x":{"field":"x","type":"quantitative","scale":{"domain":[0,4],"nice":false},"axis":{"values":[0,4],"labelExpr":"datum.value == 0 ? '0' : format(datum.value, '.1f')","title":null,"labelOffset":3}},
                   "x2":{"field":"x2"},
                   "y":{"field":"c","type":"quantitative","scale":{"domain":[0,1],"nice":false},"axis":{"labels":false,"title":null}},
                   "y2":{"datum":0}}},
      {"data":{"name":"expFit"},"transform":[{"filter":"datum.p=='h5'"}],
       "mark":{"type":"line","interpolate":"monotone","color":"black","strokeWidth":1},
       "encoding":{"x":{"field":"x","type":"quantitative"},"y":{"field":"c","type":"quantitative"}}},
      {"data":{"values":[{}]},"mark":{"type":"text","text":"–50m V"},"encoding":{"x":{"datum":3.0},"y":{"datum":0.91}}},
      {"data":{"values":[{}]},"mark":{"type":"text","text":"0.58ms"},"encoding":{"x":{"datum":3.29},"y":{"datum":0.32}}}
     ]},
     {"width":74,"height":90,"layer":[
      {"data":{"name":"expBars"},"transform":[{"filter":"datum.p=='h6'"}],
       "mark":{"type":"rect","fill":"#d0d0d0","stroke":"#333","strokeWidth":0.6},
       "encoding":{"x":{"field":"x","type":"quantitative","scale":{"domain":[0,4],"nice":false},"axis":{"values":[0,4],"labelExpr":"datum.value == 0 ? '0' : format(datum.value, '.1f')","title":null,"labelOffset":3}},
                   "x2":{"field":"x2"},
                   "y":{"field":"c","type":"quantitative","scale":{"domain":[0,1],"nice":false},"axis":{"labels":false,"title":null}},
                   "y2":{"datum":0}}},
      {"data":{"name":"expFit"},"transform":[{"filter":"datum.p=='h6'"}],
       "mark":{"type":"line","interpolate":"monotone","color":"black","strokeWidth":1},
       "encoding":{"x":{"field":"x","type":"quantitative"},"y":{"field":"c","type":"quantitative"}}},
      {"data":{"values":[{}]},"mark":{"type":"text","text":"–20m V"},"encoding":{"x":{"datum":3.62},"y":{"datum":0.91}}},
      {"data":{"values":[{}]},"mark":{"type":"text","text":"0.62ms"},"encoding":{"x":{"datum":3.51},"y":{"datum":0.32}}}
     ]}
    ]},
    {"title":{"text":"Open time (ms)","orient":"bottom","offset":8},
     "spacing":33,"bounds":"flush","hconcat":[
     {"width":73,"height":90,"layer":[
      {"data":{"name":"expBars"},"transform":[{"filter":"datum.p=='h7'"}],
       "mark":{"type":"rect","fill":"#d0d0d0","stroke":"#333","strokeWidth":0.6},
       "encoding":{"x":{"field":"x","type":"quantitative","scale":{"domain":[0,30],"nice":false},"axis":{"values":[0,30],"labelExpr":"datum.value == 0 ? '0' : format(datum.value, '.1f')","title":null,"labelOffset":3}},
                   "x2":{"field":"x2"},
                   "y":{"field":"c","type":"quantitative","scale":{"domain":[0,1],"nice":false},"axis":{"labels":false,"title":null}},
                   "y2":{"datum":0}}},
      {"data":{"name":"expFit"},"transform":[{"filter":"datum.p=='h7'"}],
       "mark":{"type":"line","interpolate":"monotone","color":"black","strokeWidth":1},
       "encoding":{"x":{"field":"x","type":"quantitative"},"y":{"field":"c","type":"quantitative"}}},
      {"data":{"values":[{}]},"mark":{"type":"text","text":"1.6ms"},"encoding":{"x":{"datum":18.6},"y":{"datum":0.36}}}
     ]},
     {"width":74,"height":90,"layer":[
      {"data":{"name":"expBars"},"transform":[{"filter":"datum.p=='h8'"}],
       "mark":{"type":"rect","fill":"#d0d0d0","stroke":"#333","strokeWidth":0.6},
       "encoding":{"x":{"field":"x","type":"quantitative","scale":{"domain":[0,30],"nice":false},"axis":{"values":[0,30],"labelExpr":"datum.value == 0 ? '0' : format(datum.value, '.1f')","title":null,"labelOffset":3}},
                   "x2":{"field":"x2"},
                   "y":{"field":"c","type":"quantitative","scale":{"domain":[0,1],"nice":false},"axis":{"labels":false,"title":null}},
                   "y2":{"datum":0}}},
      {"data":{"name":"expFit"},"transform":[{"filter":"datum.p=='h8'"}],
       "mark":{"type":"line","interpolate":"monotone","color":"black","strokeWidth":1},
       "encoding":{"x":{"field":"x","type":"quantitative"},"y":{"field":"c","type":"quantitative"}}},
      {"data":{"values":[{}]},"mark":{"type":"text","text":"4.3ms"},"encoding":{"x":{"datum":20.3},"y":{"datum":0.36}}}
     ]}
    ]}
   ]}
 ]
}
]
}
